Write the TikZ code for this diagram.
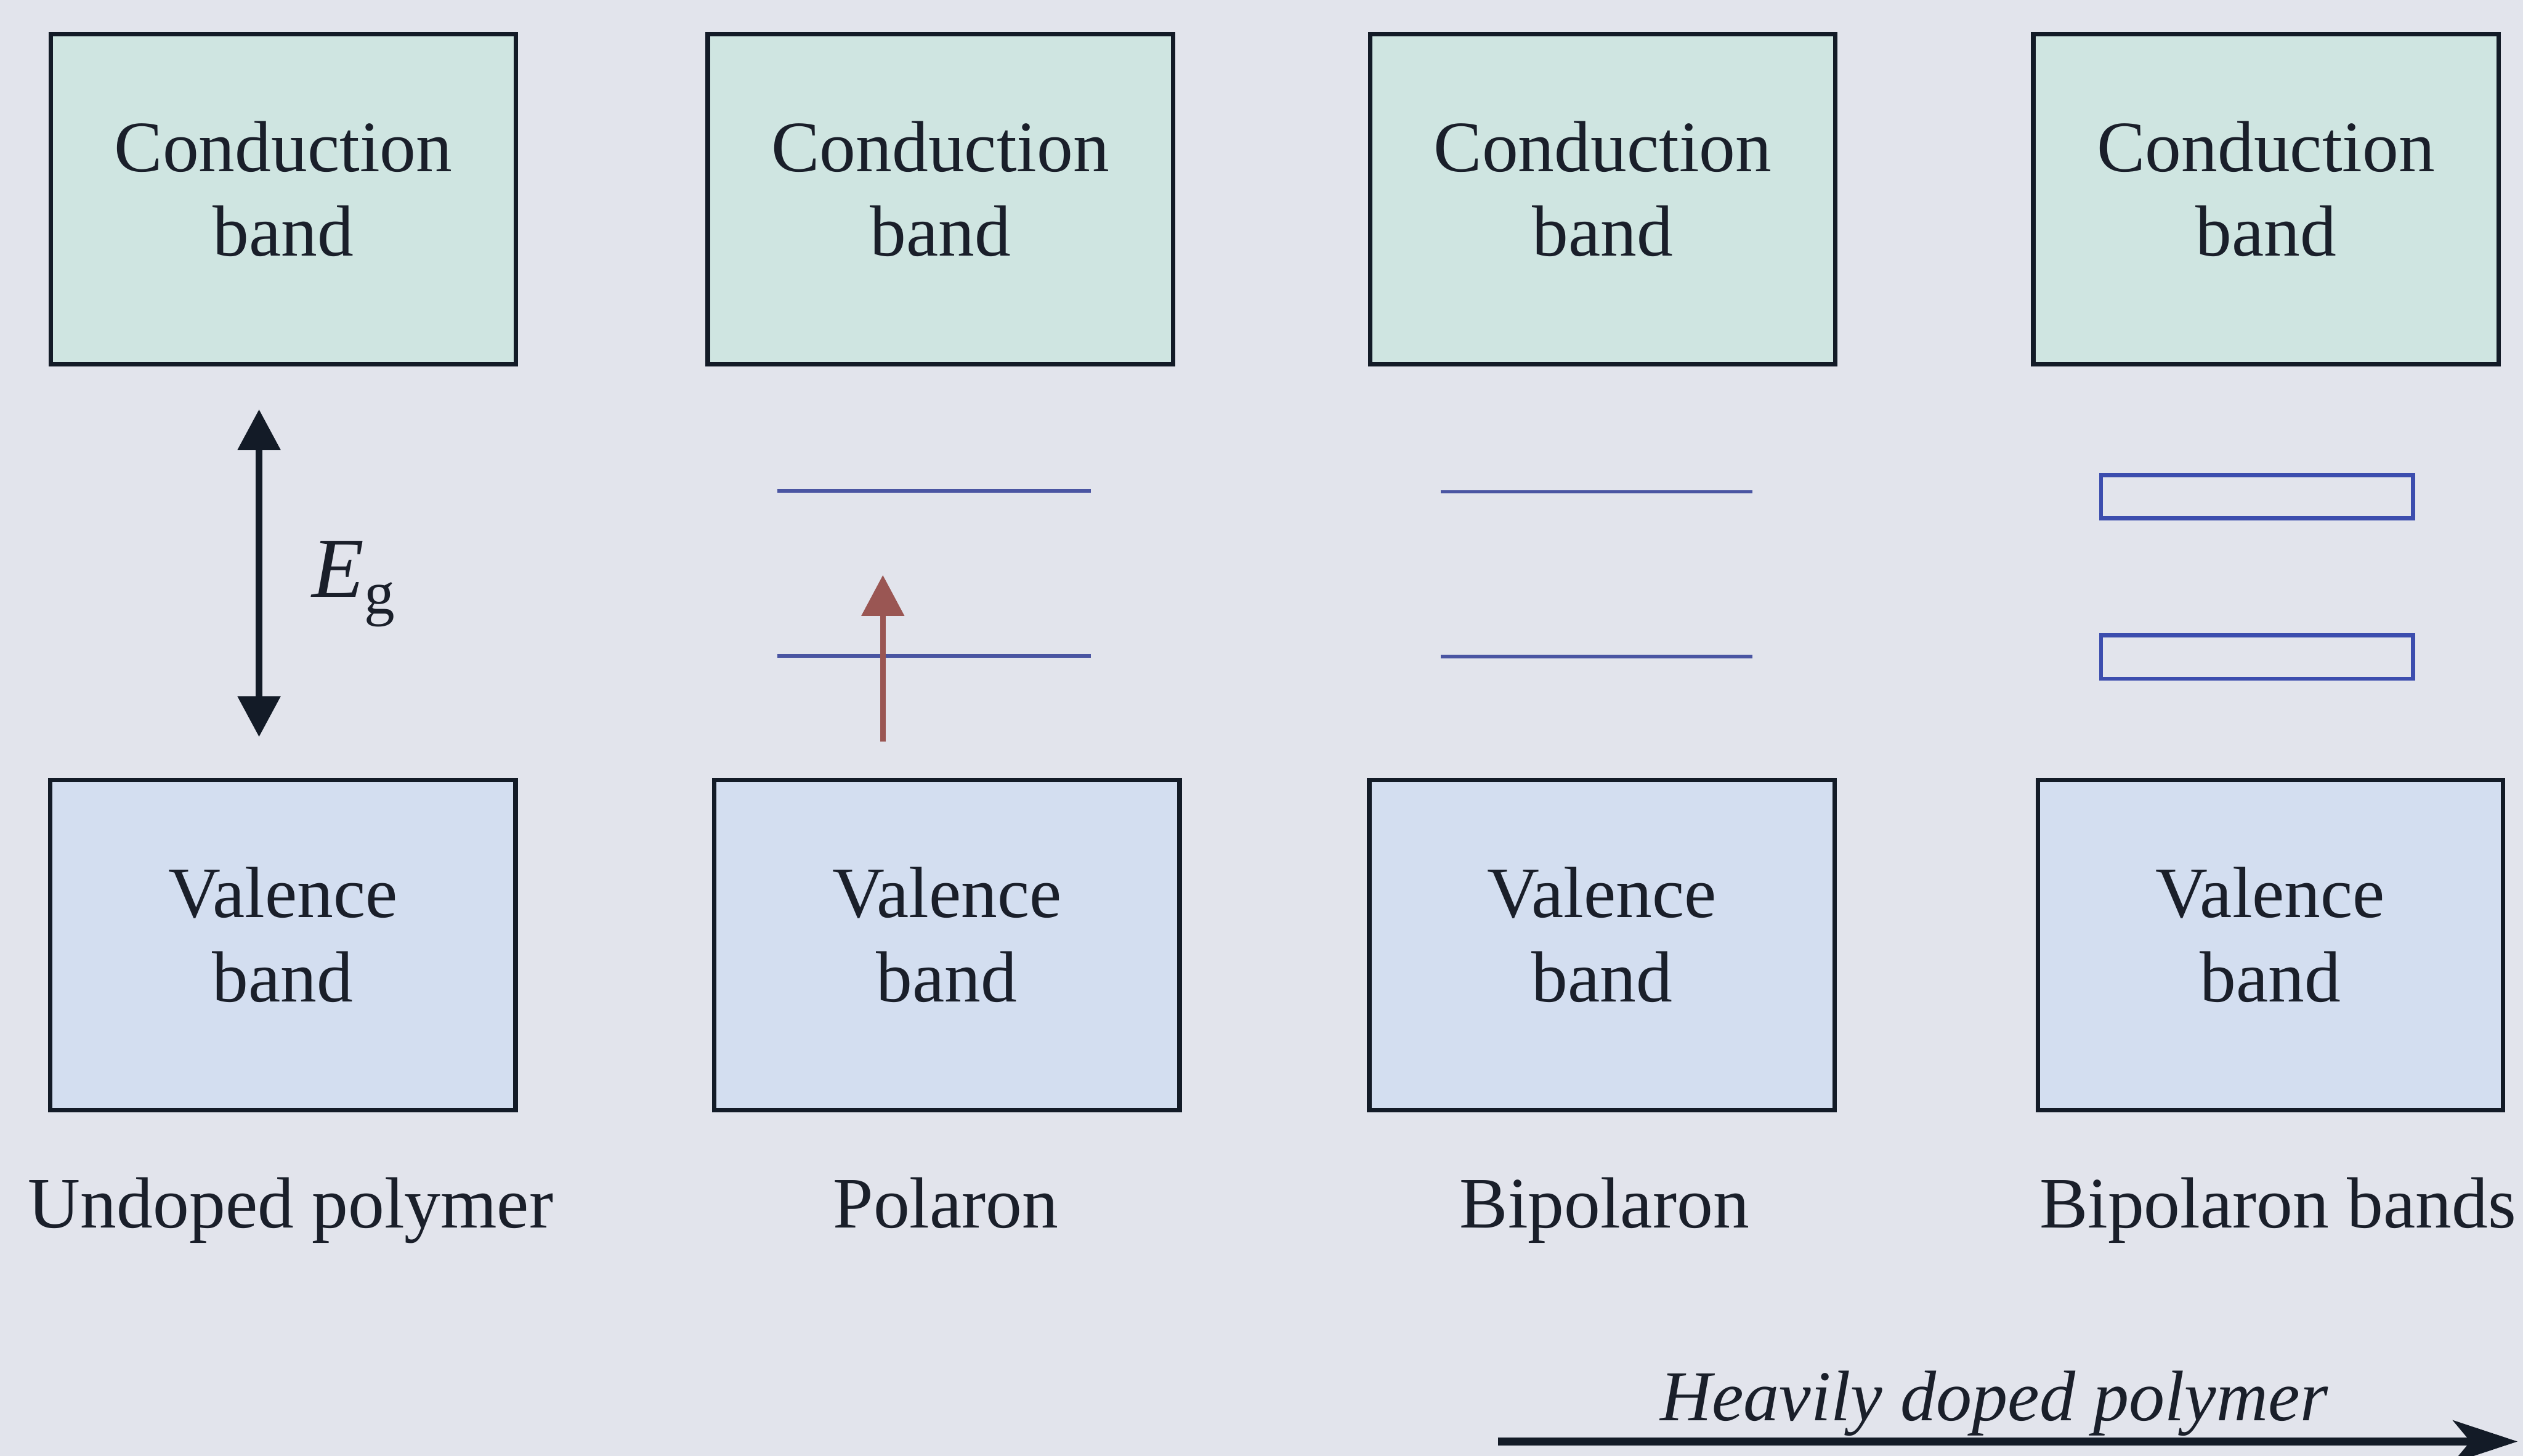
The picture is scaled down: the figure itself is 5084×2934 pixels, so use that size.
\documentclass[tikz,border=0pt]{standalone}
\usepackage{fontspec}
\setmainfont{Liberation Serif}
\usetikzlibrary{arrows.meta}
\definecolor{bgcol}{HTML}{E2E4EC}
\definecolor{condfill}{HTML}{CFE5E1}
\definecolor{valfill}{HTML}{D3DEF0}
\definecolor{edgecol}{HTML}{131B27}
\definecolor{txtcol}{HTML}{1A1F2A}
\definecolor{levelcol}{HTML}{4A55A2}
\definecolor{rectcol}{HTML}{3C4DAE}
\definecolor{excol}{HTML}{9A5653}
\tikzset{
  bandbox/.style={draw=edgecol, line width=0.09cm, rectangle, inner sep=0pt,
    minimum width=9.37cm, minimum height=6.65cm},
  condbox/.style={bandbox, fill=condfill},
  valbox/.style={bandbox, fill=valfill},
  bandtxt/.style={align=center, inner sep=0pt, text=txtcol,
    font=\fontsize{41.5}{48.4}\selectfont},
  caption/.style={anchor=base, inner sep=0pt, text=txtcol,
    font=\fontsize{41.5}{48.4}\selectfont},
  levelline/.style={draw=levelcol, line width=0.07cm},
  bandrect/.style={draw=rectcol, line width=0.08cm, rectangle, inner sep=0pt,
    minimum width=6.28cm, minimum height=0.87cm},
  gaparrow/.style={draw=edgecol, line width=0.13cm,
    {Triangle[length=0.82cm,width=0.84cm]}-{Triangle[length=0.82cm,width=0.84cm]}},
  exarrow/.style={draw=excol, line width=0.11cm,
    -{Triangle[length=0.82cm,width=0.84cm]}},
  dopearrow/.style={draw=edgecol, line width=0.15cm,
    -{Stealth[length=1.3cm,width=0.85cm,inset=0.35cm]}}
}
\begin{document}
\begin{tikzpicture}[x=0.01cm, y=-0.01cm]
\fill[bgcol] (0,0) rectangle (5084,2934);
\useasboundingbox (0,0) rectangle (5084,2934);

% conduction bands
\node[condbox] (c1) at (571,401.5) {};
\node[condbox] (c2) at (1895,401.5) {};
\node[condbox] (c3) at (3229.5,401.5) {};
\node[condbox] (c4) at (4566,401.5) {};
\node[bandtxt] (c1t) at ([yshift=0.21cm]c1.center) {Conduction\\band};
\node[bandtxt] (c2t) at ([yshift=0.21cm]c2.center) {Conduction\\band};
\node[bandtxt] (c3t) at ([yshift=0.21cm]c3.center) {Conduction\\band};
\node[bandtxt] (c4t) at ([yshift=0.21cm]c4.center) {Conduction\\band};

% valence bands
\node[valbox] (v1) at (570,1904.5) {};
\node[valbox] (v2) at (1908,1904.5) {};
\node[valbox] (v3) at (3228,1904.5) {};
\node[valbox] (v4) at (4575,1904.5) {};
\node[bandtxt] (v1t) at ([yshift=0.21cm]v1.center) {Valence\\band};
\node[bandtxt] (v2t) at ([yshift=0.21cm]v2.center) {Valence\\band};
\node[bandtxt] (v3t) at ([yshift=0.21cm]v3.center) {Valence\\band};
\node[bandtxt] (v4t) at ([yshift=0.21cm]v4.center) {Valence\\band};

% captions
\node[caption] (l1) at (586,2474) {Undoped polymer};
\node[caption] (l2) at (1906,2474) {Polaron};
\node[caption] (l3) at (3233,2474) {Bipolaron};
\node[caption] (l4) at (4590,2474) {Bipolaron bands};

% band gap
\coordinate (egtop) at (522,825);
\coordinate (egbot) at (522,1485);
\draw[gaparrow] (egbot) -- (egtop);
\node[anchor=base west, inner sep=0pt, text=txtcol, font=\fontsize{49}{56}\selectfont]
  (eg) at (628,1203) {\textit{E}\raisebox{-0.2em}{\fontsize{35}{40}\selectfont g}};

% polaron levels
\coordinate (pa1) at (1566,989);  \coordinate (pb1) at (2198,989);
\coordinate (pa2) at (1566,1322); \coordinate (pb2) at (2198,1322);
\draw[levelline] (pa1) -- (pb1);
\draw[levelline] (pa2) -- (pb2);
\coordinate (exlow) at (1779,1494);
\coordinate (exhigh) at (1779,1159);
\draw[exarrow] (exlow) -- (exhigh);

% bipolaron levels
\coordinate (ba1) at (2903,991);  \coordinate (bb1) at (3531,991);
\coordinate (ba2) at (2903,1323); \coordinate (bb2) at (3531,1323);
\draw[levelline] (ba1) -- (bb1);
\draw[levelline] (ba2) -- (bb2);

% bipolaron bands
\node[bandrect] (r1) at (4548,1001) {};
\node[bandrect] (r2) at (4548,1324) {};

% heavily doped arrow
\coordinate (hs) at (3018,2905);
\coordinate (he) at (5073,2905);
\draw[dopearrow] (hs) -- (he);
\node[caption, font=\fontsize{41}{48}\selectfont\itshape] (hd) at (4018,2863) {Heavily doped polymer};
\end{tikzpicture}
\end{document}
